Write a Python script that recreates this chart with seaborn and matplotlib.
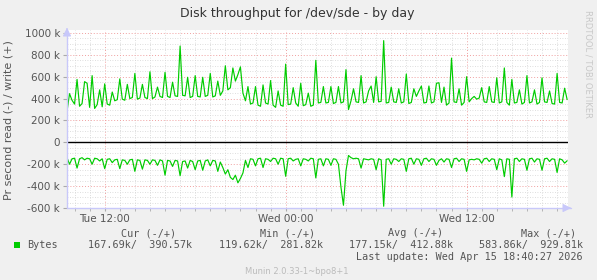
import matplotlib
matplotlib.use("Agg")
import matplotlib.pyplot as plt
import seaborn as sns
import numpy as np
import pandas as pd
from matplotlib.ticker import MultipleLocator, FuncFormatter

# ---------------- data (k bytes per second, 10-minute samples) ----------------
start_hour = 9.5          # Tue 09:30, hours counted from Tue 00:00
step_minutes = 10

write_k = [
    282, 445, 385, 350, 575, 330, 355, 555, 540, 320,
    610, 310, 345, 480, 325, 535, 350, 340, 460, 380,
    390, 580, 395, 385, 530, 400, 410, 630, 395, 405,
    530, 410, 400, 645, 400, 415, 505, 420, 410, 640,
    420, 410, 550, 425, 420, 880, 430, 425, 595, 410,
    420, 610, 420, 415, 595, 420, 430, 630, 415, 425,
    560, 430, 470, 700, 480, 500, 680, 560, 620, 690,
    450, 380, 510, 350, 360, 510, 340, 330, 525, 360,
    350, 565, 340, 320, 470, 340, 330, 715, 345, 350,
    500, 360, 330, 540, 335, 345, 450, 330, 340, 750,
    360, 365, 510, 360, 365, 510, 355, 365, 510, 360,
    370, 665, 300, 380, 490, 370, 365, 610, 360, 370,
    470, 515, 365, 600, 370, 375, 930, 360, 365, 505,
    370, 365, 490, 360, 370, 625, 355, 365, 490, 420,
    470, 515, 360, 365, 515, 360, 370, 540, 545, 365,
    505, 340, 360, 770, 370, 365, 490, 340, 365, 600,
    370, 400, 420, 395, 405, 500, 370, 365, 510, 370,
    365, 590, 360, 370, 680, 365, 340, 575, 360, 365,
    480, 350, 365, 610, 360, 370, 480, 350, 365, 590,
    370, 365, 470, 355, 350, 630, 365, 360, 495, 391,
]

read_k = [
    -140, -200, -150, -145, -235, -150, -140, -160, -145, -150,
    -200, -145, -150, -170, -150, -240, -155, -150, -185, -160,
    -155, -240, -160, -165, -200, -160, -155, -265, -160, -165,
    -245, -160, -165, -200, -160, -165, -210, -160, -170, -300,
    -165, -170, -220, -165, -170, -305, -175, -170, -235, -165,
    -175, -250, -170, -165, -255, -170, -160, -215, -165, -170,
    -265, -180, -230, -290, -250, -320, -340, -300, -370, -330,
    -280, -165, -230, -150, -155, -215, -150, -145, -230, -150,
    -155, -175, -145, -150, -200, -145, -150, -310, -150, -145,
    -170, -155, -150, -215, -150, -155, -170, -145, -150, -325,
    -155, -150, -215, -150, -155, -210, -150, -155, -200, -410,
    -575, -260, -120, -140, -150, -145, -150, -235, -150, -155,
    -160, -150, -155, -250, -150, -160, -584, -155, -150, -200,
    -150, -155, -175, -150, -155, -265, -150, -145, -200, -150,
    -155, -210, -150, -145, -175, -150, -155, -210, -165, -150,
    -180, -150, -155, -230, -150, -145, -175, -150, -155, -265,
    -160, -155, -160, -150, -155, -190, -150, -145, -175, -150,
    -155, -250, -150, -160, -313, -150, -155, -500, -150, -145,
    -175, -150, -155, -255, -150, -145, -180, -150, -155, -255,
    -150, -145, -175, -150, -155, -275, -150, -160, -190, -168,
]

x_tick_hours = [12, 24, 36]
x_tick_labels = ["Tue 12:00", "Wed 00:00", "Wed 12:00"]

title = "Disk throughput for /dev/sde - by day"
ylabel = "Pr second read (-) / write (+)"
legend_name = "Bytes"
col_heads = ["Cur (-/+)", "Min (-/+)", "Avg (-/+)", "Max (-/+)"]
col_values = ["167.69k/  390.57k", "119.62k/  281.82k",
              "177.15k/  412.88k", "583.86k/  929.81k"]
last_update = "Last update: Wed Apr 15 18:40:27 2026"
footer = "Munin 2.0.33-1~bpo8+1"
side_text = "RRDTOOL / TOBI OETIKER"

# ---------------- styling ----------------
sns.set_style("white")
plt.rcParams["font.family"] = ["DejaVu Sans"]

W, H = 597, 280
BG = "#F0F0F0"
GREEN = "#00CC00"
TXT = "#555555"
AXC = "#C8C8FA"

n = len(write_k)
hours = [start_hour + i * step_minutes / 60.0 for i in range(n)]
df = pd.DataFrame({"hour": hours + hours,
                   "value": write_k + read_k,
                   "dir": ["write"] * n + ["read"] * n})

fig = plt.figure(figsize=(W / 100, H / 100), dpi=100, facecolor=BG)

def px(x, y):
    return x / W, 1 - y / H

ax_left, ax_right, ax_top, ax_bottom = 67, 568, 30, 208
ax = fig.add_axes([ax_left / W, 1 - ax_bottom / H,
                   (ax_right - ax_left) / W, (ax_bottom - ax_top) / H])
ax.set_facecolor("white")

xmin = start_hour
xmax = start_hour + (ax_right - ax_left) / 15.08
ymin, ymax = -600, 1027
ax.set_xlim(xmin, xmax)
ax.set_ylim(ymin, ymax)

# grid
ax.yaxis.set_major_locator(MultipleLocator(200))
ax.yaxis.set_minor_locator(MultipleLocator(50))
ax.xaxis.set_major_locator(MultipleLocator(6))
ax.xaxis.set_minor_locator(MultipleLocator(1))
ax.grid(which="minor", color="#D4D4D4", linestyle=(0, (1, 2)), linewidth=0.6)
ax.grid(which="major", color="#F0A0A0", linestyle=(0, (1, 2)), linewidth=0.7)
ax.set_axisbelow(True)

sns.lineplot(data=df[df["dir"] == "write"], x="hour", y="value", ax=ax,
             color=GREEN, linewidth=0.85, legend=False, zorder=3)
sns.lineplot(data=df[df["dir"] == "read"], x="hour", y="value", ax=ax,
             color=GREEN, linewidth=0.85, legend=False, zorder=3)
ax.axhline(0, color="black", linewidth=1.0, zorder=4)

for s in ax.spines.values():
    s.set_visible(False)

# axis lines with arrows
ax.plot([xmin, xmin], [ymin, ymax], color=AXC, lw=1.0, clip_on=False, zorder=5)
ax.plot([xmin, xmax + 0.2], [ymin, ymin], color=AXC, lw=1.0, clip_on=False, zorder=5)
ax.annotate("", xy=(ax_left / W, 1 - 25 / H), xytext=(ax_left / W, 1 - 32 / H),
            xycoords="figure fraction",
            arrowprops=dict(arrowstyle="-|>,head_width=0.25,head_length=0.5",
                            color=AXC, lw=0.8))
ax.annotate("", xy=(574 / W, 1 - ax_bottom / H), xytext=(566 / W, 1 - ax_bottom / H),
            xycoords="figure fraction",
            arrowprops=dict(arrowstyle="-|>,head_width=0.25,head_length=0.5",
                            color=AXC, lw=0.8))

# ticks
ax.set_xticks(x_tick_hours)
ax.set_xticklabels(x_tick_labels)
ax.xaxis.set_minor_locator(MultipleLocator(1))
ax.tick_params(axis="x", which="both", length=2, color="#AAAAAA",
               labelsize=7.5, labelcolor=TXT, pad=2, bottom=True)
ax.tick_params(axis="y", which="major", length=3, color="#AAAAAA",
               labelsize=7.5, labelcolor=TXT, pad=2, left=True)
ax.tick_params(axis="y", which="minor", length=0)

def yfmt(v, pos):
    v = int(round(v))
    return "0" if v == 0 else f"{v} k"
ax.yaxis.set_major_formatter(FuncFormatter(yfmt))
ax.set_yticks(list(range(-600, 1001, 200)))

ax.set_xlabel("")
ax.set_ylabel(ylabel, fontsize=8, color=TXT, labelpad=6)
ax.yaxis.set_label_coords(-(67 - 14) / (ax_right - ax_left), (208 - 120) / (208 - 30))

# texts
fig.text(*px(297, 13), title, ha="center", va="center", fontsize=9, color="#333333")
fig.text(*px(588, 64), side_text, ha="center", va="center", rotation=270,
         fontsize=6, color="#C8C8C8")

mono = "DejaVu Sans Mono"
fs = 7.25
head_right = [176, 315, 443, 576]
val_right = [192, 323, 453, 583]
for h_, xr in zip(col_heads, head_right):
    fig.text(*px(xr, 233), h_, ha="right", va="center", family=mono, fontsize=fs, color=TXT)
for v_, xr in zip(col_values, val_right):
    fig.text(*px(xr, 245), v_, ha="right", va="center", family=mono, fontsize=fs, color=TXT)
fig.text(*px(27, 245), legend_name, ha="left", va="center", family=mono, fontsize=fs, color=TXT)
fig.patches.append(plt.Rectangle(px(14, 248), 6 / W, 6 / H, transform=fig.transFigure,
                                 facecolor=GREEN, edgecolor="none"))
fig.text(*px(583, 257), last_update, ha="right", va="center", family=mono, fontsize=fs, color=TXT)
fig.text(*px(297, 272), footer, ha="center", va="center", fontsize=6, color="#BBBBBB")

fig.savefig("out.png", dpi=100, facecolor=BG)
